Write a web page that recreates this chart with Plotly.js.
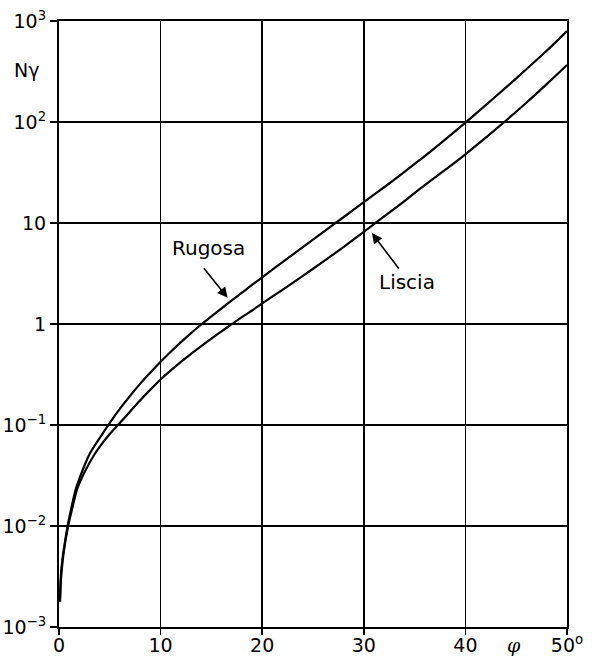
<!DOCTYPE html>
<html>
<head>
<meta charset="utf-8">
<script src="https://cdn.plot.ly/plotly-3.0.1.min.js"></script>
<style>html,body{margin:0;padding:0;background:#fff;}#chart{width:592px;height:657px;}</style>
</head>
<body>
<div id="chart"></div>
<script>
// Angle of friction phi (degrees) and N-gamma values
const phiRugosa = [0.1, 0.2, 0.4, 0.6, 0.85, 1.2, 1.64, 2.2, 3, 4, 5, 6, 7, 8, 9, 10, 11, 12, 13, 14, 15, 16, 17, 18, 19, 20, 22, 24, 26, 28, 30, 32, 34, 36, 38, 40, 42, 44, 46, 48, 50];
const nRugosa   = [0.00191, 0.00339, 0.00525, 0.00708, 0.0100, 0.0148, 0.0229, 0.0331, 0.0513, 0.0741, 0.105, 0.145, 0.195, 0.257, 0.331, 0.422, 0.531, 0.661, 0.813, 0.989, 1.19, 1.43, 1.71, 2.04, 2.44, 2.90, 4.10, 5.78, 8.13, 11.4, 16.1, 22.6, 32.1, 46.0, 66.8, 98.4, 147, 220, 333, 507, 794];
const phiLiscia = [0.1, 0.2, 0.4, 0.6, 0.9, 1.2, 1.8, 2.5, 3.5, 4.5, 5, 6, 7, 8, 9, 10, 11, 12, 13, 14, 15, 16, 17, 18, 19, 20, 22, 24, 26, 28, 30, 32, 34, 36, 38, 40, 42, 44, 46, 48, 50];
const nLiscia   = [0.00178, 0.00302, 0.0049, 0.00676, 0.0100, 0.0135, 0.0234, 0.0339, 0.0513, 0.0708, 0.0813, 0.105, 0.136, 0.176, 0.224, 0.282, 0.347, 0.422, 0.507, 0.605, 0.718, 0.847, 0.995, 1.17, 1.36, 1.60, 2.18, 3.00, 4.14, 5.78, 8.17, 11.6, 16.5, 23.7, 33.5, 47.9, 70.0, 103.5, 155, 237, 367];

const xTickVals = [0, 10, 20, 30, 40, 50];
const xTickText = ["0", "10", "20", "30", "40", "50<sup>o</sup>"];
const yTickVals = [0.001, 0.01, 0.1, 1, 10, 100, 1000];
const yTickText = ["10<sup>−3</sup>", "10<sup>−2</sup>", "10<sup>−1</sup>", "1", "10", "10<sup>2</sup>", "10<sup>3</sup>"];

const font = {family: "DejaVu Sans, Arial, sans-serif", size: 19, color: "#000"};
const labelFont = {family: "DejaVu Sans, Arial, sans-serif", size: 20, color: "#000"};

const traces = [
  {x: phiRugosa, y: nRugosa, name: "Rugosa", mode: "lines", line: {color: "#000", width: 2.2, shape: "spline", smoothing: 0.8}},
  {x: phiLiscia, y: nLiscia, name: "Liscia", mode: "lines", line: {color: "#000", width: 2.2, shape: "spline", smoothing: 0.8}}
];

const layout = {
  width: 592, height: 657,
  margin: {l: 59, r: 25, t: 21, b: 30},
  paper_bgcolor: "#fff", plot_bgcolor: "#fff",
  showlegend: false,
  font: font,
  xaxis: {
    range: [0, 50], tickvals: xTickVals, ticktext: xTickText,
    showgrid: true, gridcolor: "#000", gridwidth: 1.5,
    showline: true, linecolor: "#000", linewidth: 2, mirror: true,
    ticks: "outside", ticklen: 6, tickcolor: "#000", tickwidth: 1.5,
    ticklabelstandoff: -6,
    zeroline: false, tickfont: font
  },
  yaxis: {
    type: "log", range: [-3, 3], tickvals: yTickVals, ticktext: yTickText,
    showgrid: true, gridcolor: "#000", gridwidth: 1.5,
    showline: true, linecolor: "#000", linewidth: 2, mirror: true,
    ticks: "outside", ticklen: 7, tickcolor: "#000", tickwidth: 1.5,
    zeroline: false, tickfont: font
  },
  annotations: [
    {xref: "paper", yref: "paper", x: -0.063, y: 0.919, xanchor: "center", yanchor: "middle", text: "Nγ", showarrow: false, font: font},
    {xref: "x", yref: "paper", x: 44.8, y: -0.03, xanchor: "center", yanchor: "middle", text: "<i>φ</i>", showarrow: false, font: {family: "DejaVu Serif, serif", size: 19, color: "#000"}},
    {xref: "x", yref: "y", x: 14.7, y: 0.753, text: "Rugosa", showarrow: false, font: labelFont},
    {xref: "x", yref: "y", x: 34.3, y: 0.415, text: "Liscia", showarrow: false, font: labelFont},
    {xref: "x", yref: "y", x: 16.6, y: 0.26, text: "", showarrow: true, axref: "pixel", ayref: "pixel", ax: -25, ay: -31, arrowhead: 2, arrowsize: 1.3, arrowwidth: 1.6, arrowcolor: "#000"},
    {xref: "x", yref: "y", x: 30.8, y: 0.9, text: "", showarrow: true, axref: "pixel", ayref: "pixel", ax: 28, ay: 37, arrowhead: 2, arrowsize: 1.3, arrowwidth: 1.6, arrowcolor: "#000"}
  ]
};

Plotly.newPlot("chart", traces, layout, {displayModeBar: false, staticPlot: true});
</script>
</body>
</html>
